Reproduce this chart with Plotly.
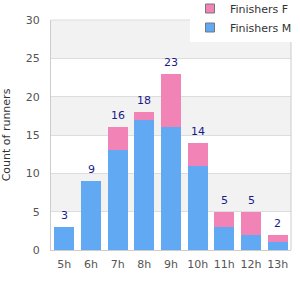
import plotly.graph_objects as go

categories = ["5h", "6h", "7h", "8h", "9h", "10h", "11h", "12h", "13h"]
finishers_m = [3, 9, 13, 17, 16, 11, 3, 2, 1]
finishers_f = [0, 0, 3, 1, 7, 3, 2, 3, 1]
y_ticks = [0, 5, 10, 15, 20, 25, 30]

totals = [m + f for m, f in zip(finishers_m, finishers_f)]

BLUE = "#62a9f3"
PINK = "#f283b7"
FONT = "DejaVu Sans"

fig = go.Figure()
fig.add_trace(go.Bar(x=categories, y=finishers_m, name="Finishers M",
                     marker=dict(color=BLUE, line=dict(width=0)), showlegend=False))
fig.add_trace(go.Bar(x=categories, y=finishers_f, name="Finishers F",
                     marker=dict(color=PINK, line=dict(width=0)), showlegend=False))
# legend entries
fig.add_trace(go.Scatter(x=[None], y=[None], mode="markers", name="Finishers M",
                         marker=dict(symbol="square", size=9, color=BLUE,
                                     line=dict(color="#777", width=1))))
fig.add_trace(go.Scatter(x=[None], y=[None], mode="markers", name="Finishers F",
                         marker=dict(symbol="square", size=9, color=PINK,
                                     line=dict(color="#777", width=1))))

annotations = [dict(x=c, y=t, xref="x", yref="y", text=str(t), showarrow=False,
                    yanchor="bottom", yshift=3,
                    font=dict(family=FONT, size=11, color="#1a1a8a"))
               for c, t in zip(categories, totals)]

shapes = []
for lo in range(5, 30, 10):
    shapes.append(dict(type="rect", xref="paper", yref="y", x0=0, x1=1, y0=lo, y1=lo + 5,
                       fillcolor="#f2f2f2", line=dict(width=0), layer="below"))

fig.update_layout(
    width=300, height=300,
    margin=dict(l=51, r=9, t=20, b=50, autoexpand=False),
    barmode="stack", bargap=0.25,
    plot_bgcolor="white", paper_bgcolor="white",
    font=dict(family=FONT, size=11, color="#555"),
    shapes=shapes,
    annotations=annotations,
    legend=dict(x=1.025, xanchor="right", y=1.113, yanchor="top",
                bgcolor="white", traceorder="reversed",
                font=dict(family=FONT, size=11, color="#333"),
                itemwidth=30, tracegroupgap=0),
    xaxis=dict(showgrid=False, showline=True, linecolor="#ccc", linewidth=1,
               ticks="", tickfont=dict(size=11, color="#555"), ticklabelstandoff=4),
    yaxis=dict(range=[0, 30], tickvals=y_ticks, showgrid=True, gridcolor="#ddd",
               showline=True, linecolor="#ccc", linewidth=1, zeroline=False,
               ticks="", tickfont=dict(size=11, color="#555"), ticklabelstandoff=8,
               title=dict(text="Count of runners", font=dict(size=11, color="#333"), standoff=14)),
)
fig.add_shape(type="line", xref="paper", yref="paper", x0=1, x1=1, y0=0, y1=1,
              line=dict(color="#ccc", width=1))
fig.add_shape(type="line", xref="paper", yref="paper", x0=0, x1=1, y0=1, y1=1,
              line=dict(color="#ddd", width=1))

fig.write_html("out.html")
